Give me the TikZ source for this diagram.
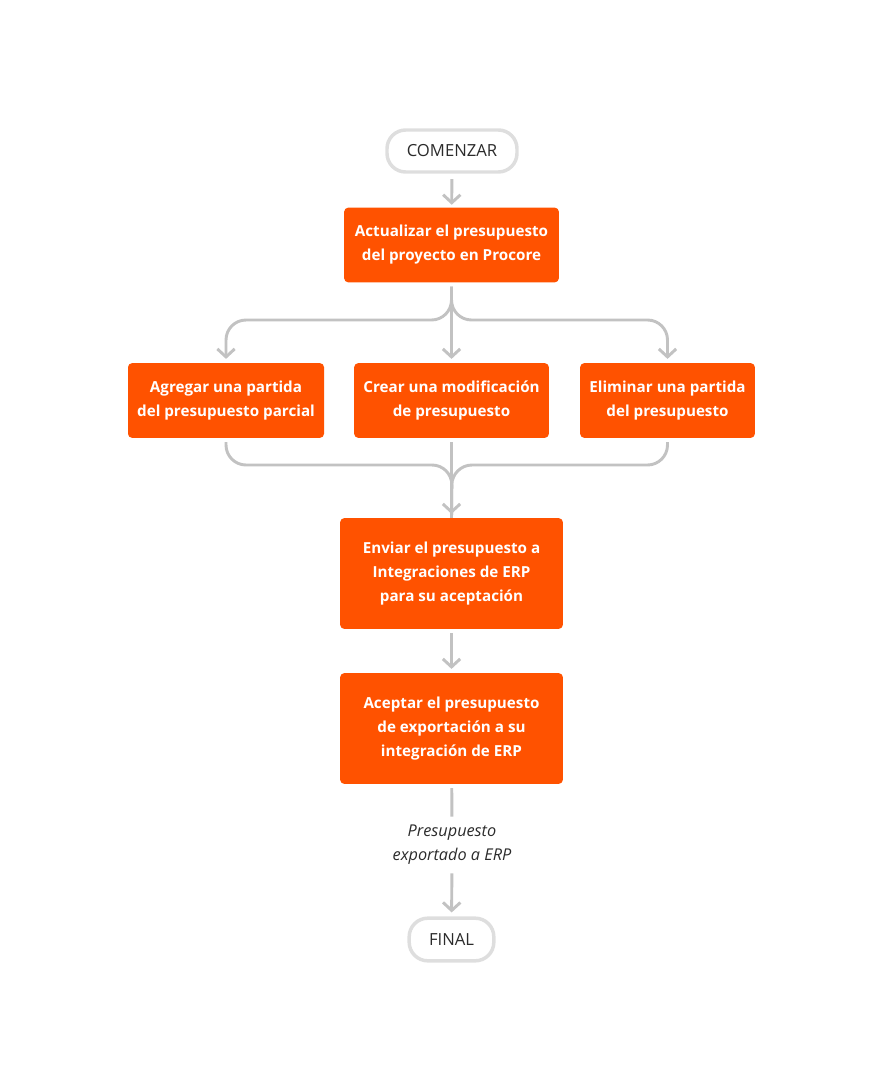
\documentclass[tikz,border=0pt]{standalone}
\usepackage{fontspec}
\setmainfont{Open Sans}
\usetikzlibrary{arrows.meta,positioning}
\definecolor{proc}{HTML}{FF5200}
\definecolor{conn}{HTML}{C2C2C2}
\definecolor{pill}{HTML}{DEDEDE}
\definecolor{ink}{HTML}{2B2B2B}
\tikzset{
  box/.style={fill=proc, rounded corners=3pt, inner sep=0pt, text=white, align=center,
    font=\fontsize{11.4pt}{18pt}\selectfont\bfseries},
  term/.style={draw=pill, line width=2.6pt, fill=white, rounded corners=14pt, inner sep=0pt,
    text=ink, font=\fontsize{12.5pt}{14pt}\selectfont},
  link/.style={draw=conn, line width=2.2pt, rounded corners=15pt},
  arr/.style={link, -{Straight Barb[length=6pt,width=13pt,line width=2.2pt]}},
  lbl/.style={text=ink, align=center, font=\fontsize{12.2pt}{18pt}\selectfont\itshape}
}
\begin{document}
\begin{tikzpicture}[x=0.75pt,y=-0.75pt]
\useasboundingbox (0,0) rectangle (884,1091);
\node[term, minimum width=97.5pt, minimum height=31.5pt] (start) at (452,151) {COMENZAR};
\node[box, minimum width=161pt, minimum height=56pt] (b1) at (451.5,245) {Actualizar el presupuesto\\del proyecto en Procore};
\node[box, minimum width=147pt, minimum height=56pt] (b2a) at (226,400.5) {Agregar una partida\\del presupuesto parcial};
\node[box, minimum width=146pt, minimum height=56pt] (b2b) at (451.5,400.5) {Crear una modificación\\de presupuesto};
\node[box, minimum width=131pt, minimum height=56pt] (b2c) at (667.5,400.5) {Eliminar una partida\\del presupuesto};
\node[box, minimum width=167pt, minimum height=83pt] (b3) at (451.5,573.5) {Enviar el presupuesto a\\Integraciones de ERP\\para su aceptación};
\node[box, minimum width=167pt, minimum height=83pt] (b4) at (451.5,728.5) {Aceptar el presupuesto\\de exportación a su\\integración de ERP};
\node[lbl] (lab) at (452,845) {Presupuesto\\exportado a ERP};
\node[term, minimum width=63.5pt, minimum height=32pt] (fin) at (451.5,939.5) {FINAL};
\coordinate (sy) at (452,320);
\coordinate (my) at (452,465);
% connectors
\draw[arr, shorten <=4pt, shorten >=2pt] (start) -- (b1);
\draw[arr, shorten <=3pt, shorten >=3pt] (b1.south) |- (b2a.north |- sy) -- (b2a.north);
\draw[arr, shorten <=3pt, shorten >=3pt] (b1.south) |- (b2c.north |- sy) -- (b2c.north);
\draw[arr, shorten <=3pt, shorten >=3pt] (b1.south) -- (b2b.north);
\draw[link, shorten <=3pt] (b2a.south) |- (my) -- (b3.north);
\draw[link, shorten <=3pt] (b2c.south) |- (my) -- (b3.north);
\draw[arr, shorten <=3pt, shorten >=3pt] (b2b.south) -- (b3.north);
\draw[arr, shorten <=3pt, shorten >=3pt] (b3) -- (b4);
\draw[link, shorten <=3pt, shorten >=3pt] (b4) -- (lab);
\draw[arr, shorten <=3pt, shorten >=3pt] (lab) -- (fin);
\end{tikzpicture}
\end{document}
